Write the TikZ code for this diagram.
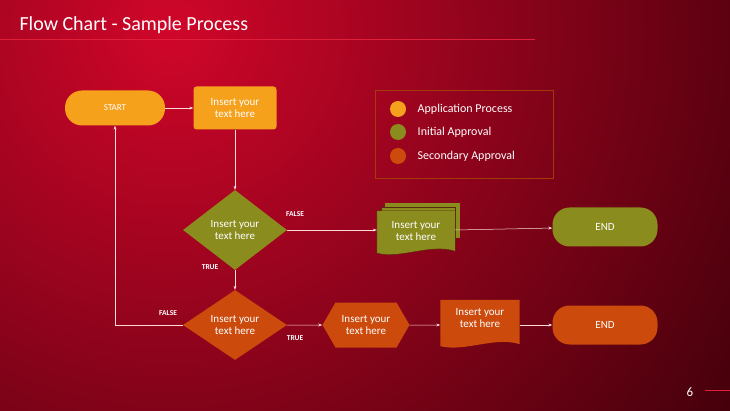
\documentclass[tikz,border=0pt]{standalone}
\usepackage{fontspec}
\setmainfont{Carlito}
\usetikzlibrary{arrows.meta,positioning,calc,shapes.geometric,shapes.symbols}
\definecolor{appl}{HTML}{F5A11C}
\definecolor{init}{HTML}{8A8C1E}
\definecolor{secd}{HTML}{CB4A0C}
\definecolor{bgdark}{HTML}{40000A}
\definecolor{bgred}{HTML}{D0062A}
\definecolor{rule}{HTML}{E0203A}
\begin{document}
\begin{tikzpicture}[
  x=1pt, y=-1pt,
  every node/.style={text=white, align=center, font=\fontsize{11}{12}\selectfont},
  pill/.style={rounded corners=17pt, minimum width=102pt, minimum height=38pt},
  box/.style={rounded corners=3pt, minimum width=83pt, minimum height=43pt},
  dia/.style={diamond, aspect=1.3, inner sep=0pt},
  hexa/.style={signal, signal to=west and east, signal pointer angle=120, minimum width=87pt, minimum height=45pt, inner sep=1pt},
  tag/.style={font=\fontsize{7.5}{8}\selectfont\bfseries},
  arrow/.style={-{Stealth[length=4pt,width=3pt]}, white!85!red, line width=0.5pt},
  dot/.style={circle, minimum size=16pt, inner sep=0pt}
]
% background
\useasboundingbox (0,0) rectangle (730,411);
\clip (0,0) rectangle (730,411);
\fill[bgdark] (0,0) rectangle (730,411);
\shade[inner color=bgred, outer color=bgdark] (170,30) circle[radius=700];

% title
\node[anchor=west, font=\fontsize{20}{22}\selectfont] (title) at (16,25) {Flow Chart - Sample Process};
\draw[rule, line width=1pt] (0,40) -- (535,40);
\node[font=\fontsize{13}{14}\selectfont] (page) at (690,392) {6};
\draw[rule, line width=1pt] (705,390) -- (730,390);

% top row
\node[pill, fill=appl, font=\fontsize{9}{10}\selectfont, minimum width=100pt, minimum height=35pt] (start) at (115,108) {START};
\node[box, fill=appl] (step1) at (235,108) {Insert your\\text here};

% initial approval
\node[dia, fill=init, minimum width=104pt, minimum height=80pt] (check1) at (235,230) {Insert your\\text here};
\fill[init] (385,203) rectangle (460,238);
\fill[init, draw=bgdark!70!init, line width=0.4pt] (381,207) rectangle (455,243);
\node[minimum width=78pt, minimum height=40pt, inner sep=0pt] (stack) at (416,231) {};
\fill[init, draw=bgdark!70!init, line width=0.4pt] (stack.north west) -- (stack.north east) -- (stack.south east)
  .. controls ($(stack.south east)+(-25,-8)$) and ($(stack.south west)+(25,8)$) .. ($(stack.south west)+(0,2)$) -- cycle;
\node at (stack) {Insert your\\text here};
\node[pill, fill=init, minimum width=105pt, minimum height=39pt] (end1) at (605,227) {END};

% secondary approval
\node[dia, fill=secd, minimum width=104pt, minimum height=70pt] (check2) at (235,325) {Insert your\\text here};
\node[hexa, fill=secd] (step2) at (366,325) {Insert your\\text here};
\node[minimum width=79pt, minimum height=44pt, inner sep=0pt] (memo) at (480,322) {};
\fill[secd] (memo.north west) -- (memo.north east) -- (memo.south east)
  .. controls ($(memo.south east)+(-25,-8)$) and ($(memo.south west)+(25,8)$) .. ($(memo.south west)+(0,2)$) -- cycle;
\node at ($(memo)+(0,-4)$) {Insert your\\text here};
\node[pill, fill=secd, minimum width=105pt, minimum height=39pt] (end2) at (605,325) {END};

% connectors
\draw[arrow] (start) -- (step1);
\draw[arrow] (step1) -- (check1);
\draw[arrow] (check1) -- (stack.west |- check1.east);
\draw[arrow] (stack.east |- check1.east) -- (end1);
\draw[arrow] (check1) -- (check2);
\draw[arrow] (check2.west) -| (start.south);
\draw[arrow] (check2) -- (step2);
\draw[arrow] (step2) -- (memo.west |- step2.east);
\draw[arrow] (memo.east |- step2.east) -- (end2);

% labels
\node[tag] (f1) at (295,214) {FALSE};
\node[tag] (t1) at (210,267) {TRUE};
\node[tag] (f2) at (168,313) {FALSE};
\node[tag] (t2) at (295,338) {TRUE};

% legend
\draw[secd!80!black, line width=0.6pt] (375,90) rectangle (553,178);
\node[dot, fill=appl] (d1) at (398,109) {};
\node[dot, fill=init] (d2) at (398,132) {};
\node[dot, fill=secd] (d3) at (398,156) {};
\node[anchor=west, font=\fontsize{12}{13}\selectfont, right=8pt of d1] (l1) {Application Process};
\node[anchor=west, font=\fontsize{12}{13}\selectfont, right=8pt of d2] (l2) {Initial Approval};
\node[anchor=west, font=\fontsize{12}{13}\selectfont, right=8pt of d3] (l3) {Secondary Approval};
\end{tikzpicture}
\end{document}
